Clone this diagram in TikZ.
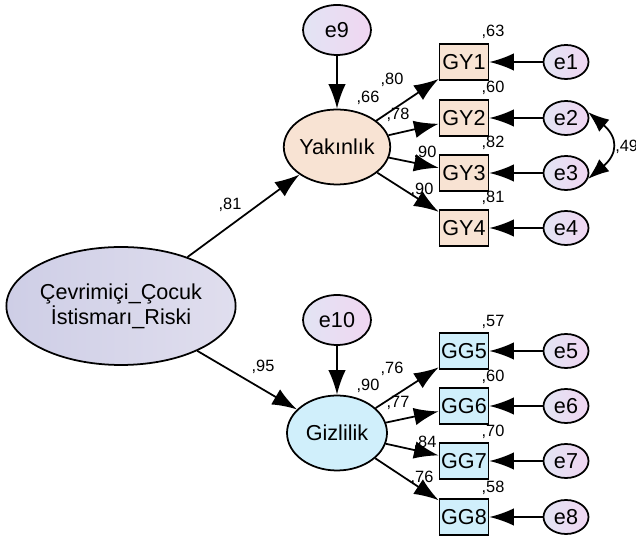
\documentclass[tikz,border=0pt]{standalone}
\usepackage{fontspec}
\setmainfont{Liberation Sans}
\usetikzlibrary{arrows.meta,shapes.geometric}

\definecolor{peach}{RGB}{248,227,211}
\definecolor{skyfill}{RGB}{208,239,251}
\definecolor{riskA}{RGB}{206,206,230}
\definecolor{riskB}{RGB}{224,222,238}
\definecolor{errA}{RGB}{226,228,243}
\definecolor{errB}{RGB}{240,214,242}

\begin{document}
\begin{tikzpicture}[x=0.02cm,y=-0.02cm,
    every node/.style={font=\fontsize{12.3}{12}\selectfont},
    latent/.style={ellipse,draw,line width=1pt,inner sep=0pt},
    errc/.style={ellipse,draw,line width=1pt,inner sep=0pt,minimum width=0.9cm,minimum height=0.68cm,left color=errA,right color=errB},
    bigerr/.style={errc,minimum width=1.36cm,minimum height=1cm},
    obs/.style={rectangle,draw,line width=1pt,inner sep=0pt,minimum width=0.98cm,minimum height=0.72cm},
    coef/.style={font=\fontsize{9.3}{9}\selectfont,inner sep=0pt},
    tip/.style={Latex[length=14pt,width=10pt]},
    arr/.style={-{Latex[length=14pt,width=10pt]},line width=1pt}]

    \useasboundingbox (0,0) rectangle (636,543);

    % latent variables
    \node[latent,minimum width=4.44cm,minimum height=2.36cm,left color=riskA,right color=riskB,align=center] (risk) at (121,306) {Çevrimiçi\_Çocuk\\İstismarı\_Riski};
    \node[latent,minimum width=2cm,minimum height=1.5cm,fill=peach] (yak) at (337,147) {Yakınlık};
    \node[latent,minimum width=2cm,minimum height=1.5cm,fill=skyfill] (giz) at (337,433) {Gizlilik};

    \node[bigerr] (e9) at (337,30) {e9};
    \node[bigerr] (e10) at (337,320) {e10};

    \draw[arr] (risk) -- (yak);
    \draw[arr] (risk) -- (giz);
    \draw[arr] (e9) -- (yak);
    \draw[arr] (e10) -- (giz);

    \node[coef] (c81) at (230,205) {,81};
    \node[coef] (c95) at (263,367) {,95};
    \node[coef] (c66) at (368,98) {,66};
    \node[coef] (c90) at (368,386) {,90};

    % Yakinlik items
    \foreach \i/\y/\r/\lx/\ly/\l in {1/62/63/392/80/80, 2/118/60/398/115/78, 3/173/82/425/153/90, 4/228/81/422/190/90} {
        \node[obs,fill=peach] (gy\i) at (464,\y) {GY\i};
        \node[errc] (e\i) at (566,\y) {e\i};
        \draw[arr] (e\i) -- (gy\i);
        \draw[arr] (yak) -- (gy\i);
        \node[coef] (rgy\i) at (493,{\y-30}) {,\r};
        \node[coef] (lgy\i) at (\lx,\ly) {,\l};
    }

    % Gizlilik items
    \foreach \i/\y/\r/\lx/\ly/\l in {5/351/57/392/369/76, 6/406/60/398/403/77, 7/461/70/425/443/84, 8/517/58/422/478/76} {
        \node[obs,fill=skyfill] (gg\i) at (464,\y) {GG\i};
        \node[errc] (e\i) at (566,\y) {e\i};
        \draw[arr] (e\i) -- (gg\i);
        \draw[arr] (giz) -- (gg\i);
        \node[coef] (rgg\i) at (493,{\y-29.5}) {,\r};
        \node[coef] (lgg\i) at (\lx,\ly) {,\l};
    }

    % covariance e2 - e3
    \draw[{Latex[length=12pt,width=9pt]}-{Latex[length=12pt,width=9pt]},line width=1pt] (e2.15) to[out=-40,in=40,looseness=1.5] (e3.-15);
    \node[coef,anchor=west] (c49) at (615,147) {,49};

\end{tikzpicture}
\end{document}
